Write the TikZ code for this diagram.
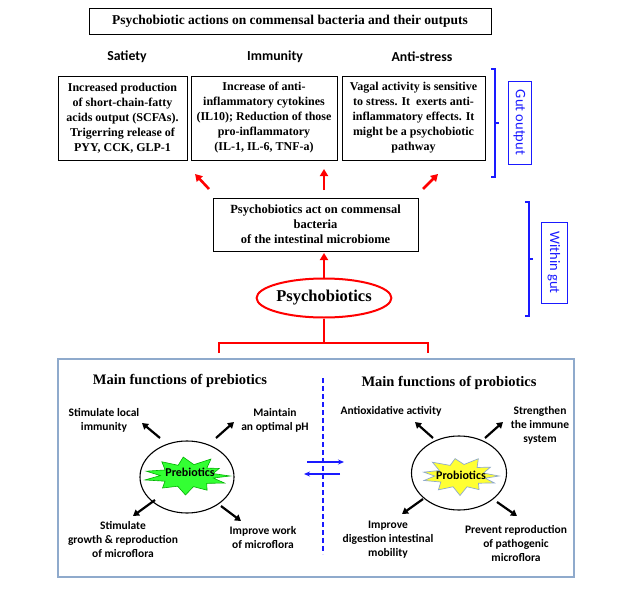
\documentclass[tikz,border=0pt]{standalone}
\usepackage{fontspec}
\setmainfont{Liberation Serif}
\newfontfamily\calfont{Carlito}
\usetikzlibrary{arrows.meta,shapes.geometric}
\definecolor{bxblue}{HTML}{8FAACC}
\definecolor{brblue}{HTML}{1A1AFF}
\definecolor{stargreen}{HTML}{33FF33}
\definecolor{staryellow}{HTML}{FFFF33}
\tikzset{
  txtbox/.style={draw, line width=0.9pt, align=center, inner sep=0pt,
    font=\bfseries\fontsize{12}{15}\selectfont},
  head/.style={font=\calfont\bfseries\fontsize{13.8}{15}\selectfont},
  redarrow/.style={red, line width=2.6pt, -{Triangle[length=7pt,width=8pt]}},
  blkarrow/.style={black, line width=2.2pt, -{Triangle[length=6pt,width=7pt]}},
  bracket/.style={brblue, line width=1.6pt},
  sidelabel/.style={draw=brblue, line width=0.8pt, text=brblue, rotate=-90,
    font=\calfont\fontsize{14.5}{16}\selectfont, inner sep=0pt},
  funclabel/.style={align=center, font=\calfont\bfseries\fontsize{11.5}{14}\selectfont},
  functitle/.style={font=\bfseries\fontsize{14.5}{16}\selectfont},
  circ/.style={draw, line width=1.1pt, fill=white, ellipse, inner sep=0pt},
}
\begin{document}
\begin{tikzpicture}[x=1pt,y=-1pt]
\useasboundingbox (0,0) rectangle (624,610);
% title
\node[txtbox, font=\bfseries\fontsize{13.5}{15}\selectfont, minimum width=402pt, minimum height=26pt] (title) at (290,21) {Psychobiotic actions on commensal bacteria and their outputs};
% headings
\node[head] (hsat) at (127,57) {Satiety};
\node[head] (himm) at (275,57) {Immunity};
\node[head] (hanti) at (422,57) {Anti-stress};
% boxes
\node[txtbox, minimum width=129pt, minimum height=84pt] (b1) at (122.5,118) {Increased production\\of short-chain-fatty\\acids output (SCFAs).\\Trigerring release of\\PYY, CCK, GLP-1};
\node[txtbox, minimum width=146pt, minimum height=84pt] (b2) at (264,118) {Increase of anti-\\inflammatory cytokines\\(IL10); Reduction of those\\pro-inflammatory\\(IL-1, IL-6, TNF-a)};
\node[txtbox, minimum width=143pt, minimum height=84pt] (b3) at (413.5,118) {Vagal activity is sensitive\\to stress. It\ \ exerts anti-\\inflammatory effects. It\\might be a psychobiotic\\pathway};
% gut output bracket
\draw[bracket] (491,69) -- (495,69) -- (495,177) -- (491,177);
\draw[bracket] (495,123) -- (499,123);
\node[sidelabel, minimum width=83pt, minimum height=23pt] (gut) at (519.5,122.5) {Gut output};
% act box
\node[txtbox, font=\bfseries\fontsize{12.5}{15}\selectfont, minimum width=205pt, minimum height=53pt] (act) at (315.5,224.5) {Psychobiotics act on commensal\\bacteria\\of the intestinal microbiome};
% red arrows up
\coordinate (a1s) at (209,189); \coordinate (a1e) at (195,174);
\coordinate (a2s) at (324,190); \coordinate (a2e) at (324,169);
\coordinate (a3s) at (423,189); \coordinate (a3e) at (438,174);
\draw[redarrow] (a1s) -- (a1e);
\draw[redarrow] (a2s) -- (a2e);
\draw[redarrow] (a3s) -- (a3e);
% ellipse
\node[ellipse, draw=red, line width=2pt, minimum width=111pt, minimum height=39pt, inner sep=0pt, font=\bfseries\fontsize{16.5}{18}\selectfont] (psy) at (324,298) {Psychobiotics};
\coordinate (a4e) at (324,253);
\draw[redarrow] (psy.north) -- (a4e);
% within gut bracket
\draw[bracket] (525,202) -- (529,202) -- (529,316) -- (525,316);
\draw[bracket] (529,259) -- (533,259);
\node[sidelabel, minimum width=81pt, minimum height=26pt] (within) at (554,262.5) {Within gut};
% red bracket below
\coordinate (rb) at (324,343);
\coordinate (rl) at (219,353);
\coordinate (rr) at (428,353);
\draw[red, line width=1.8pt] (psy.south) -- (rb);
\draw[red, line width=1.8pt] (rl) -- (219,343) -- (428,343) -- (rr);
% bottom frame
\node[draw=bxblue, line width=1.1pt, minimum width=516pt, minimum height=218pt, inner sep=0pt] (frame) at (316,468) {};
% dashed separator
\coordinate (dtop) at (323,378); \coordinate (dbot) at (323,554);
\draw[brblue, line width=1.6pt, dash pattern=on 5pt off 3pt] (dtop) -- (dbot);
\coordinate (x1s) at (307,462); \coordinate (x1e) at (344,462);
\coordinate (x2s) at (340,474); \coordinate (x2e) at (304,474);
\draw[brblue, line width=1.4pt, -{Stealth[length=6pt,width=5pt]}] (x1s) -- (x1e);
\draw[brblue, line width=1.4pt, -{Stealth[length=6pt,width=5pt]}] (x2s) -- (x2e);
% titles
\node[functitle] (tpre) at (180,381) {Main functions of prebiotics};
\node[functitle] (tpro) at (449,383) {Main functions of probiotics};
% prebiotics circle
\node[circ, minimum width=94pt, minimum height=72pt] (pre) at (187,477) {};
\begin{scope}[shift={(187,476)}, x=43pt, y=19pt]
\draw[fill=stargreen, draw=green!70!black, line width=0.6pt]
 (0:1.0) -- (12:0.62) -- (28:0.85) -- (42:0.62) -- (58:1.05) -- (75:0.62) -- (95:1.0) -- (110:0.6) -- (128:0.95) -- (148:0.6) -- (165:0.98) -- (178:0.62) -- (192:1.0) -- (208:0.58) -- (228:0.85) -- (248:0.58) -- (268:1.0) -- (285:0.58) -- (302:0.88) -- (320:0.6) -- (337:0.95) -- (350:0.62) -- cycle;
\end{scope}
\node[font=\calfont\bfseries\fontsize{12}{14}\selectfont] (pretxt) at (190,472) {Prebiotics};
\coordinate (p1) at (142,423); \coordinate (p2) at (234,422);
\coordinate (p3) at (133,516); \coordinate (p4) at (241,521);
\draw[blkarrow] (160,438) -- (p1);
\draw[blkarrow] (216,438) -- (p2);
\draw[blkarrow] (155,500) -- (p3);
\draw[blkarrow] (221,506) -- (p4);
\node[funclabel] (l1) at (104,420) {Stimulate local\\immunity};
\node[funclabel] (l2) at (275,420) {Maintain\\an optimal pH};
\node[funclabel] (l3) at (123,539) {Stimulate\\growth \& reproduction\\of microflora};
\node[funclabel] (l4) at (263,537.5) {Improve work\\of microflora};
% probiotics circle
\node[circ, minimum width=95pt, minimum height=74pt] (pro) at (459,473) {};
\begin{scope}[shift={(460,476)}, x=39pt, y=19.5pt]
\draw[fill=staryellow, draw=bxblue, line width=0.7pt]
 (0:1.0) -- (14:0.62) -- (30:0.9) -- (45:0.62) -- (62:1.0) -- (80:0.6) -- (98:0.9) -- (115:0.6) -- (135:1.0) -- (152:0.6) -- (168:0.95) -- (180:0.65) -- (194:0.95) -- (212:0.58) -- (232:0.9) -- (252:0.58) -- (270:1.0) -- (288:0.58) -- (305:0.85) -- (322:0.6) -- (338:0.95) -- (350:0.65) -- cycle;
\end{scope}
\node[font=\calfont\bfseries\fontsize{12}{14}\selectfont] (protxt) at (461,475) {Probiotics};
\coordinate (q1) at (415,422); \coordinate (q2) at (503,422);
\coordinate (q3) at (402,514); \coordinate (q4) at (517,516);
\draw[blkarrow] (433,438) -- (q1);
\draw[blkarrow] (485,438) -- (q2);
\draw[blkarrow] (423,499) -- (q3);
\draw[blkarrow] (497,502) -- (q4);
\node[funclabel] (m1) at (391,411) {Antioxidative activity};
\node[funclabel] (m2) at (540,425) {Strengthen\\the immune\\system};
\node[funclabel] (m3) at (388,540) {Improve\\digestion intestinal\\mobility};
\node[funclabel] (m4) at (516,543) {Prevent reproduction\\of pathogenic\\microflora};
\end{tikzpicture}
\end{document}
